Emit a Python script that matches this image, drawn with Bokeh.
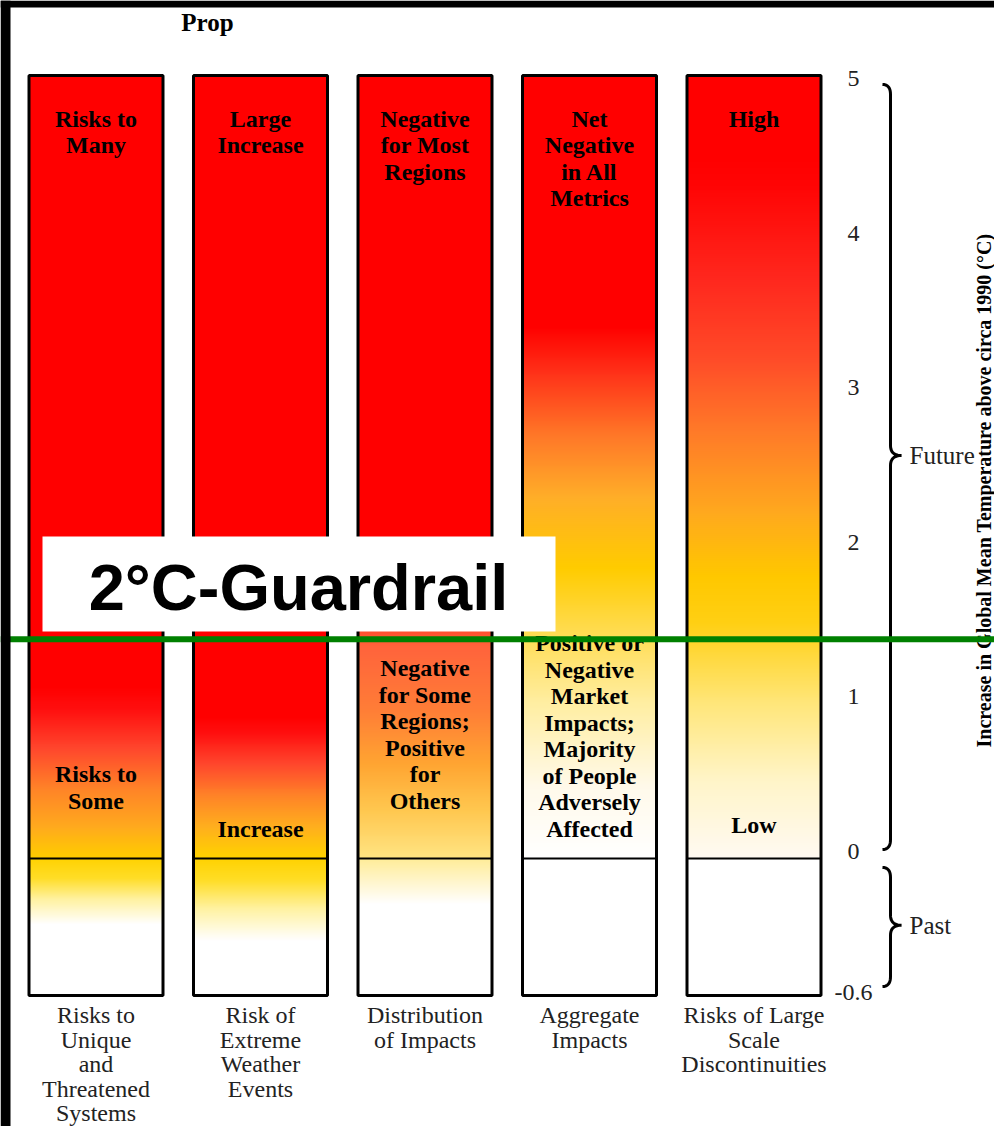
import numpy as np
from bokeh.plotting import figure
from bokeh.models import Range1d
from bokeh.core.properties import value
from bokeh.embed import file_html
from bokeh.resources import INLINE

# ---------------- data ----------------
header = "Prop"
categories = [
    ["Risks to", "Unique", "and", "Threatened", "Systems"],
    ["Risk of", "Extreme", "Weather", "Events"],
    ["Distribution", "of Impacts"],
    ["Aggregate", "Impacts"],
    ["Risks of Large", "Scale", "Discontinuities"],
]
high_labels = [
    ["Risks to", "Many"],
    ["Large", "Increase"],
    ["Negative", "for Most", "Regions"],
    ["Net", "Negative", "in All", "Metrics"],
    ["High"],
]
low_labels = [
    ["Risks to", "Some"],
    ["Increase"],
    ["Negative", "for Some", "Regions;", "Positive", "for", "Others"],
    ["Positive or", "Negative", "Market", "Impacts;", "Majority", "of People", "Adversely", "Affected"],
    ["Low"],
]
tick_values = [5, 4, 3, 2, 1, 0, -0.6]
tick_labels = ["5", "4", "3", "2", "1", "0", "-0.6"]
future_range = (0.0, 5.0)
past_range = (-0.6, 0.0)
period_labels = ["Future", "Past"]
guardrail_T = 1.4
guardrail_label = "2°C-Guardrail"
y_title = "Increase in Global Mean Temperature above circa 1990 (°C)"

# ember colour stops: temperature (°C) -> colour, one list per column
W = (255, 255, 255)
R = (255, 0, 0)
future_T = [
    [0.0, 0.2, 0.45, 0.7, 0.95, 1.1, 5.0],
    [0.0, 0.2, 0.4, 0.6, 0.8, 0.9, 5.0],
    [0.0, 0.3, 0.6, 0.95, 1.35, 1.6, 1.8, 5.0],
    [0.0, 0.45, 1.0, 1.45, 1.85, 2.3, 2.7, 3.1, 3.4, 5.0],
    [0.0, 0.5, 1.0, 1.5, 1.8, 2.2, 2.7, 3.2, 3.7, 4.3, 4.5, 5.0],
]
future_C = [
    [(255, 204, 0), (255, 170, 30), (255, 130, 40), (255, 70, 45), (255, 15, 15), R, R],
    [(255, 210, 0), (255, 175, 30), (255, 130, 40), (255, 70, 45), (255, 15, 15), R, R],
    [(255, 228, 130), (255, 200, 80), (255, 165, 50), (255, 125, 55), (255, 100, 60), (255, 50, 30), R, R],
    [W, (255, 250, 235), (255, 238, 160), (255, 220, 80), (255, 204, 0), (255, 175, 40), (255, 120, 40),
     (255, 50, 25), R, R],
    [(255, 250, 242), (255, 245, 200), (255, 230, 120), (255, 208, 20), (255, 200, 0), (255, 170, 30),
     (255, 125, 40), (255, 75, 40), (255, 40, 30), (255, 5, 5), R, R],
]
past_T = [
    [-0.6, -0.29, -0.18, -0.09, 0.0],
    [-0.6, -0.36, -0.22, -0.1, 0.0],
    [-0.6, -0.2, 0.0],
    [-0.6, 0.0],
    [-0.6, 0.0],
]
past_C = [
    [W, W, (255, 242, 160), (255, 222, 40), (255, 210, 0)],
    [W, W, (255, 242, 160), (255, 222, 40), (255, 210, 0)],
    [W, W, (255, 236, 150)],
    [W, W],
    [W, W],
]

# ---------------- layout helpers ----------------
FIG_W, FIG_H = 994, 1126
PX_X, X0 = 164.5, 95.5      # px per column unit, pixel-x of first column centre
PX_Y, Y0 = 156.6, 858.0     # px per °C, pixel-y of 0 °C
PAST_STRETCH = 1.458        # past section is drawn stretched


def ty(T):
    return T if T >= 0 else T * PAST_STRETCH


def px2x(px):
    return (px - X0) / PX_X


def px2y(py):
    return (Y0 - py) / PX_Y


p = figure(width=FIG_W, height=FIG_H, x_range=Range1d(px2x(0), px2x(FIG_W)),
           y_range=Range1d(px2y(FIG_H), px2y(0)), x_axis_type=None, y_axis_type=None,
           toolbar_location=None, output_backend="svg", min_border=0,
           background_fill_color="white", border_fill_color="white")
p.outline_line_color = None
p.grid.visible = False

serif = value("Liberation Serif")
BAR_W = 134 / PX_X
LINE = 26.5 / PX_Y
n = len(categories)
xs = list(range(n))


def gradient(stT, stC, lo, hi, rows=400):
    Ts = np.linspace(lo, hi, rows)
    img = np.empty((rows, 2), dtype=np.uint32)
    v = img.view(dtype=np.uint8).reshape((rows, 2, 4))
    for ch in range(3):
        v[:, :, ch] = np.interp(Ts, stT, [c[ch] for c in stC])[:, None].astype(np.uint8)
    v[:, :, 3] = 255
    return img


for i in xs:
    p.image_rgba(image=[gradient(future_T[i], future_C[i], *future_range)],
                 x=i - BAR_W / 2, y=ty(future_range[0]), dw=BAR_W,
                 dh=ty(future_range[1]) - ty(future_range[0]))
    p.image_rgba(image=[gradient(past_T[i], past_C[i], *past_range)],
                 x=i - BAR_W / 2, y=ty(past_range[0]), dw=BAR_W,
                 dh=ty(past_range[1]) - ty(past_range[0]))

# bar outlines and 0 °C divider
p.quad(left=[x - BAR_W / 2 for x in xs], right=[x + BAR_W / 2 for x in xs],
       bottom=ty(past_range[0]), top=ty(future_range[1]),
       fill_color=None, line_color="black", line_width=3)
p.segment(x0=[x - BAR_W / 2 for x in xs], x1=[x + BAR_W / 2 for x in xs],
          y0=ty(0), y1=ty(0), line_color="black", line_width=2)

# labels inside the bars
hx, hy, ht = [], [], []
for i, lines in enumerate(high_labels):
    for k, s in enumerate(lines):
        hx.append(i)
        hy.append(ty(future_range[1]) - 43 / PX_Y - k * LINE)
        ht.append(s)
low_offsets = [58, 30, 58, 30, 34]
for i, lines in enumerate(low_labels):
    m = len(lines)
    for k, s in enumerate(lines):
        hx.append(i)
        hy.append(ty(0) + low_offsets[i] / PX_Y + (m - 1 - k) * LINE)
        ht.append(s)
p.text(x=hx, y=hy, text=ht, text_font=serif, text_font_style="bold", text_font_size="24px",
       text_align="center", text_baseline="middle", text_color="black")

# category labels below
cx, cy, ct = [], [], []
for i, lines in enumerate(categories):
    for k, s in enumerate(lines):
        cx.append(i)
        cy.append(ty(past_range[0]) - 20 / PX_Y - k * 24.5 / PX_Y)
        ct.append(s)
p.text(x=cx, y=cy, text=ct, text_font=serif, text_font_size="24px",
       text_align="center", text_baseline="middle", text_color="#222222")


# tick labels (the printed scale is slightly tighter than the bars)
def tick_px(v):
    return 851 - v * 154.6 if v >= 0 else 851 - v * 235.0


p.text(x=[px2x(853)] * len(tick_values), y=[px2y(tick_px(v)) for v in tick_values],
       text=tick_labels, text_font=serif, text_font_size="24px", text_align="center",
       text_baseline="middle", text_color="#222222")


# braces
def brace(top, bot, tip_px=882, spine_px=890, point_px=901, r_px=10, frac=0.485):
    top_p = Y0 - top * PX_Y + 9
    bot_p = Y0 - bot * PX_Y - 9
    mid_p = top_p + frac * (bot_p - top_p)
    pts = []

    def q(p0, p1, p2, steps=12):
        s = np.linspace(0, 1, steps)
        return [((1 - u) ** 2 * p0[0] + 2 * (1 - u) * u * p1[0] + u ** 2 * p2[0],
                 (1 - u) ** 2 * p0[1] + 2 * (1 - u) * u * p1[1] + u ** 2 * p2[1]) for u in s]
    pts += q((tip_px, top_p), (spine_px, top_p), (spine_px, top_p + r_px))
    pts += q((spine_px, mid_p - r_px), (spine_px, mid_p), (point_px, mid_p))
    pts += q((point_px, mid_p), (spine_px, mid_p), (spine_px, mid_p + r_px))
    pts += q((spine_px, bot_p - r_px), (spine_px, bot_p), (tip_px, bot_p))
    return [px2x(a) for a, b in pts], [px2y(b) for a, b in pts], mid_p


bf = brace(ty(future_range[1]), ty(future_range[0]))
bp = brace(ty(past_range[1]), ty(past_range[0]))
for b in (bf, bp):
    p.line(x=b[0], y=b[1], line_color="black", line_width=3)
p.text(x=[px2x(909), px2x(909)], y=[px2y(bf[2]), px2y(bp[2])], text=period_labels,
       text_font=serif, text_font_size="25px", text_align="left", text_baseline="middle",
       text_color="#222222")

# rotated axis title along the right edge
p.text(x=[px2x(994)], y=[px2y(490)], text=[y_title], angle=np.pi / 2, text_font=serif,
       text_font_style="bold", text_font_size="20px", text_align="center",
       text_baseline="bottom", text_color="black")

# header
p.text(x=[px2x(207)], y=[px2y(22)], text=[header], text_font=serif, text_font_style="bold",
       text_font_size="25px", text_align="center", text_baseline="middle", text_color="black")

# guardrail box + label
p.quad(left=px2x(42), right=px2x(555), bottom=px2y(631), top=px2y(536),
       fill_color="white", line_color=None)
p.text(x=[px2x(298)], y=[px2y(587)], text=[guardrail_label], text_font=value("Liberation Sans"),
       text_font_style="bold", text_font_size="65px", text_align="center",
       text_baseline="middle", text_color="black")
# guardrail line across the page
p.segment(x0=[px2x(0)], x1=[px2x(FIG_W)], y0=[ty(guardrail_T)], y1=[ty(guardrail_T)],
          line_color="#008000", line_width=6)

# black page edges (left and top)
p.quad(left=[px2x(0), px2x(0)], right=[px2x(10), px2x(FIG_W)],
       bottom=[px2y(FIG_H), px2y(7)], top=[px2y(0), px2y(0)],
       fill_color="black", line_color=None)

open("out.html", "w").write(file_html(p, INLINE))
